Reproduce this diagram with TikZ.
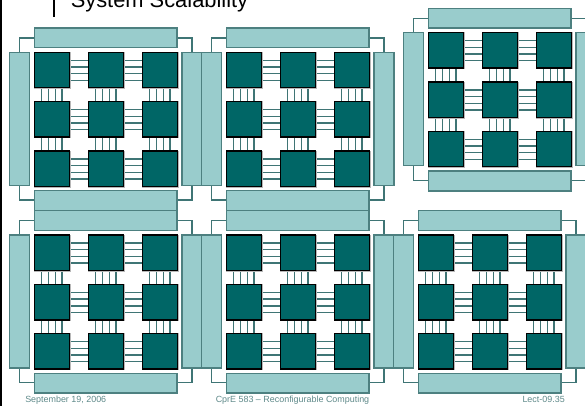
\documentclass[tikz,border=0pt]{standalone}
\usepackage{fontspec}
\setmainfont{Liberation Sans}
\definecolor{chipfill}{HTML}{006666}
\definecolor{barfill}{HTML}{99CCCC}
\definecolor{linkcol}{HTML}{3F7575}
\definecolor{barline}{HTML}{4D8080}
\definecolor{foot}{HTML}{5F8A8A}
\tikzset{
  px/.style={x=0.75pt,y=-0.75pt},
  chipshadow/.style={fill=black!28},
  chipbox/.style={draw=black,fill=chipfill,line width=1.05pt},
  barbox/.style={draw=barline,fill=barfill,line width=1.05pt},
  linkline/.style={draw=linkcol,line width=1.05pt},
  footer/.style={font=\fontsize{6.7pt}{8pt}\selectfont,text=foot,inner sep=0pt}
}
\newcommand{\modulecell}[3]{%
 \begin{scope}[shift={(#1,#2)}]
  \foreach \c/\lx in {0/69.7,1/123.7}
   \foreach \cy in {52.3,101.7,151}
    \foreach \d in {8,14.7,21.4,28}
     \draw[linkline] (\lx,\cy+\d) -- ++(18.6,0);
  \foreach \cx in {34.3,88.3,142.3}
   \foreach \cy in {87.7,137.1}
    \foreach \d in {7.4,14.2,21.2,27.7}
     \draw[linkline] (\cx+\d,\cy) -- ++(0,14);
  \foreach \c/\cx in {0/34.3,1/88.3,2/142.3}
   \foreach \r/\cy in {0/52.3,1/101.7,2/151}{
    \fill[chipshadow] (\cx-0.4,\cy-0.4) rectangle ++(37,37);
    \path[chipbox] (\cx,\cy) rectangle ++(35.4,35.4) node[pos=.5,inner sep=0pt] (#3c\c\r) {};}
  \coordinate (#3tl) at (19.3,38);
  \coordinate (#3tr) at (192,38);
  \coordinate (#3bl) at (19.3,200);
  \coordinate (#3br) at (192,200);
  \draw[linkline] (34.3,38) -- (#3tl) -- (19.3,52.3);
  \draw[linkline] (177,38) -- (#3tr) -- (192,52.3);
  \draw[linkline] (34.3,200) -- (#3bl) -- (19.3,185.3);
  \draw[linkline] (177,200) -- (#3br) -- (192,185.3);
  \path[barbox] (34.3,28) rectangle (177,47.7);
  \path[barbox] (34.3,190.7) rectangle (177,210.4);
  \path[barbox] (9.3,52.3) rectangle (29.3,185.3);
  \path[barbox] (182,52.3) rectangle (201.8,185.3);
 \end{scope}}
\begin{document}
\begin{tikzpicture}[px]
\useasboundingbox (0,0) rectangle (585,406);
\clip (0,0) rectangle (585,406);
\fill[white] (0,0) rectangle (585,406);
\modulecell{0}{0}{a}
\modulecell{192}{0}{b}
\modulecell{394}{-19.6}{c}
\modulecell{0}{182.7}{d}
\modulecell{192}{182.7}{e}
\modulecell{384}{182.7}{f}
\fill[black] (0,0) rectangle (2.4,406);
\fill[black] (52.8,0) rectangle (55,17.5);
\node[anchor=base west,inner sep=0pt,font=\fontsize{16.4pt}{18pt}\selectfont] (title) at (70.5,8) {System Scalability};
\node[footer,anchor=base west] (fd) at (25,402.7) {September 19, 2006};
\node[footer,anchor=base] (fc) at (292.5,402.7) {CprE 583 – Reconfigurable Computing};
\node[footer,anchor=base east] (fl) at (565,402.7) {Lect-09.35};
\end{tikzpicture}
\end{document}
